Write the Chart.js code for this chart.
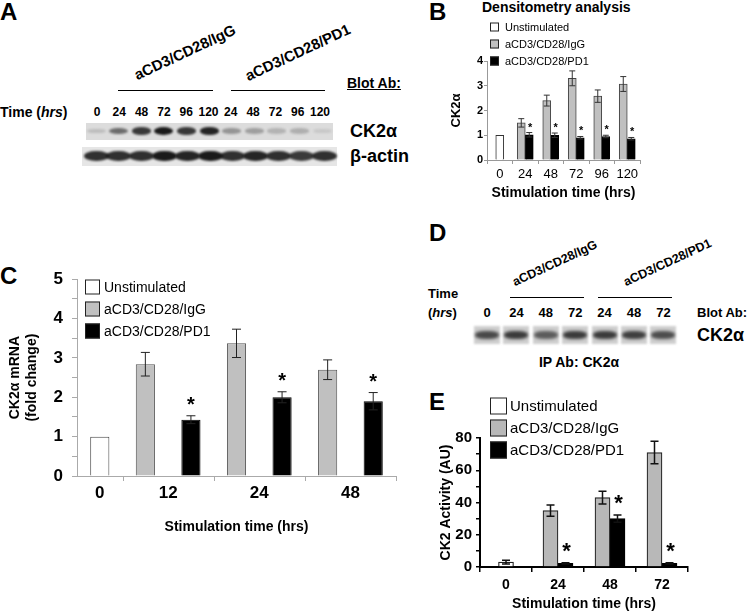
<!DOCTYPE html>
<html>
<head>
<meta charset="utf-8">
<script src="https://cdn.jsdelivr.net/npm/chart.js@4.4.1/dist/chart.umd.min.js"></script>
<style>
  body { margin: 0; background: #fff; }
  #fig { position: relative; width: 750px; height: 613px; overflow: hidden; font-family: Arial, "Liberation Sans", sans-serif; color: #000; }
  #fig canvas { position: absolute; }
  .t { position: absolute; font-weight: bold; white-space: nowrap; line-height: 1; }
  .letter { font-size: 24px; }
  .rot { transform-origin: 0 100%; transform: rotate(-25deg); }
  .rule { position: absolute; height: 0; border-top: 1.5px solid #000; }
  .strip { position: absolute; }
  .band { position: absolute; border-radius: 50%; filter: blur(1.2px); }
</style>
</head>
<body>
<div id="fig">
  <div class="t letter" style="left:0px;top:0px">A</div>
  <div class="t letter" style="left:429px;top:0px">B</div>
  <div class="t letter" style="left:0px;top:264px">C</div>
  <div class="t letter" style="left:429px;top:221px">D</div>
  <div class="t letter" style="left:429px;top:390px">E</div>

  <!-- panel A blot -->
  <div class="t rot" style="left:138px;top:67px;font-size:15px">aCD3/CD28/IgG</div>
  <div class="t rot" style="left:249px;top:68px;font-size:15px">aCD3/CD28/PD1</div>
  <div class="rule" style="left:118px;top:90px;width:95px"></div>
  <div class="rule" style="left:231px;top:90px;width:94px"></div>
  <div class="t" style="left:347px;top:76px;font-size:14px;text-decoration:underline">Blot Ab:</div>
  <div class="t" style="left:0px;top:105px;font-size:14px">Time (<i>hrs</i>)</div>
  <div id="laneA"></div>
  <div class="strip" id="stripCK2" style="left:86px;top:123px;width:247px;height:17px;background:#dcdcdc"></div>
  <div class="strip" id="stripActin" style="left:82px;top:147px;width:255px;height:19px;background:#e6e6e6"></div>
  <div class="t" style="left:350px;top:122px;font-size:18px">CK2α</div>
  <div class="t" style="left:350px;top:147px;font-size:18px">β-actin</div>

  <!-- panel B title -->
  <div class="t" style="left:482px;top:0px;font-size:14px">Densitometry analysis</div>

  <!-- panel D blot -->
  <div class="t rot" style="left:516px;top:276px;font-size:12.5px">aCD3/CD28/IgG</div>
  <div class="t rot" style="left:627px;top:276px;font-size:12.5px">aCD3/CD28/PD1</div>
  <div class="rule" style="left:510px;top:297px;width:74px"></div>
  <div class="rule" style="left:598px;top:297px;width:74px"></div>
  <div class="t" style="left:428px;top:287px;font-size:13px">Time</div>
  <div class="t" style="left:428px;top:306px;font-size:13px">(<i>hrs</i>)</div>
  <div id="laneD"></div>
  <div class="t" style="left:697px;top:306px;font-size:13px">Blot Ab:</div>
  <div id="stripD"></div>
  <div class="t" style="left:697px;top:326px;font-size:18px">CK2α</div>
  <div class="t" style="left:579px;top:355px;font-size:14px;transform:translateX(-50%)">IP Ab: CK2α</div>

  <canvas id="chartB" width="215" height="206" style="left:440px;top:0px"></canvas>
  <canvas id="chartC" width="410" height="280" style="left:0px;top:260px"></canvas>
  <canvas id="chartE" width="263" height="218" style="left:437px;top:395px"></canvas>
</div>
<script>
// ---- panel A blot (band darkness 0..1)
const aTimes = ['0', '24', '48', '72', '96', '120', '24', '48', '72', '96', '120'];
const aCK2 = [0.15, 0.55, 0.8, 0.95, 0.8, 0.9, 0.35, 0.3, 0.2, 0.22, 0.1];
const aActin = [0.85, 0.85, 0.85, 0.95, 0.9, 0.95, 0.85, 0.9, 0.85, 0.8, 0.85];

// ---- panel B densitometry
const bTimes = ['0', '24', '48', '72', '96', '120'];
const bUnstim = [1, null, null, null, null, null];
const bUnstimErr = [0, null, null, null, null, null];
const bIgG = [null, 1.5, 2.4, 3.3, 2.58, 3.07];
const bIgGErr = [null, 0.17, 0.22, 0.3, 0.25, 0.3];
const bPD1 = [null, 1.02, 1.0, 0.9, 0.95, 0.86];
const bPD1Err = [null, 0.09, 0.09, 0.05, 0.05, 0.05];
const bSig = [false, true, true, true, true, true];

// ---- panel C mRNA
const cTimes = ['0', '12', '24', '48'];
const cUnstim = [1, null, null, null, null, null, null];
const cUnstimErr = [0, null, null, null, null, null, null];
const cIgG = [null, 2.84, null, 3.37, null, 2.7, null];
const cIgGErr = [null, 0.3, null, 0.36, null, 0.25, null];
const cPD1 = [null, null, 1.43, null, 2.0, null, 1.9];
const cPD1Err = [null, null, 0.1, null, 0.14, null, 0.22];
const cSig = [false, false, true, false, true, false, true];

// ---- panel D blot
const dTimes = ['0', '24', '48', '72', '24', '48', '72'];
const dCK2 = [0.72, 0.8, 0.62, 0.8, 0.8, 0.78, 0.7];

// ---- panel E kinase activity
const eTimes = ['0', '24', '48', '72'];
const eUnstim = [3, null, null, null];
const eUnstimErr = [1.2, null, null, null];
const eIgG = [null, 35, 43, 71];
const eIgGErr = [null, 3.5, 4, 7];
const ePD1 = [null, 2.2, 30, 2.3];
const ePD1Err = [null, 0.4, 2.3, 0.4];
const eSig = [false, true, true, true];

const GRAY = '#c0c0c0';
const FONT = 'Arial, "Liberation Sans", sans-serif';

// ---------- blots
function addLanes(id, labels, x0, step, top, size) {
  const host = document.getElementById(id);
  labels.forEach((l, i) => {
    const d = document.createElement('div');
    d.className = 't';
    d.style.cssText = `left:${x0 + i * step}px;top:${top}px;font-size:${size}px;transform:translateX(-50%)`;
    d.textContent = l;
    host.appendChild(d);
  });
}
function addBands(id, vals, x0, step, cy, w, h) {
  const host = document.getElementById(id);
  const r = host.getBoundingClientRect();
  const fr = document.getElementById('fig').getBoundingClientRect();
  vals.forEach((v, i) => {
    const d = document.createElement('div');
    d.className = 'band';
    const hh = h * (0.55 + 0.45 * v);
    d.style.cssText = `left:${x0 + i * step - w / 2 - (r.left - fr.left)}px;top:${cy - hh / 2 - (r.top - fr.top)}px;width:${w}px;height:${hh}px;background:rgba(15,15,15,${v})`;
    host.appendChild(d);
  });
}
addLanes('laneA', aTimes, 97, 22.3, 106, 12);
addBands('stripCK2', aCK2, 96, 22.6, 131, 19, 8);
addBands('stripActin', aActin, 96, 22.8, 156, 25, 11);
addLanes('laneD', dTimes, 487, 29.4, 306, 13);
(function () {
  const host = document.getElementById('stripD');
  dCK2.forEach((v, i) => {
    const d = document.createElement('div');
    d.style.cssText = `position:absolute;left:${487 + i * 29.4 - 13}px;top:326px;width:26px;height:18px;filter:blur(1px);background:#cfcfcf`;
    const b = document.createElement('div');
    b.style.cssText = `position:absolute;left:1px;right:1px;top:5px;height:8px;border-radius:40%;filter:blur(1.2px);background:rgba(20,20,20,${v})`;
    d.appendChild(b);
    host.appendChild(d);
  });
})();

// ---------- chart plugins
const errorBars = {
  id: 'errorBars',
  afterDatasetsDraw(chart, args, o) {
    const ctx = chart.ctx, y = chart.scales.y;
    ctx.save();
    ctx.strokeStyle = o.color;
    ctx.lineWidth = o.width;
    chart.data.datasets.forEach((ds, di) => {
      if (!ds.errors) return;
      chart.getDatasetMeta(di).data.forEach((bar, i) => {
        const v = ds.data[i], e = ds.errors[i];
        if (v == null || !e) return;
        const x = bar.x, hi = y.getPixelForValue(v + e), lo = y.getPixelForValue(v - e);
        ctx.beginPath();
        ctx.moveTo(x, lo); ctx.lineTo(x, hi);
        ctx.moveTo(x - o.cap, hi); ctx.lineTo(x + o.cap, hi);
        ctx.moveTo(x - o.cap, lo); ctx.lineTo(x + o.cap, lo);
        ctx.stroke();
      });
    });
    ctx.restore();
  }
};

const stars = {
  id: 'stars',
  afterDatasetsDraw(chart, args, o) {
    const ctx = chart.ctx, y = chart.scales.y;
    ctx.save();
    ctx.font = o.font;
    ctx.fillStyle = '#000';
    ctx.textAlign = 'center';
    ctx.textBaseline = 'alphabetic';
    chart.data.datasets.forEach((ds, di) => {
      if (!ds.sig) return;
      chart.getDatasetMeta(di).data.forEach((bar, i) => {
        if (!ds.sig[i] || ds.data[i] == null) return;
        const top = ds.data[i] + (ds.errors ? ds.errors[i] || 0 : 0);
        ctx.fillText('*', bar.x + o.dx, y.getPixelForValue(top) - o.offset);
      });
    });
    ctx.restore();
  }
};

const boxLegend = {
  id: 'boxLegend',
  afterDraw(chart, args, o) {
    const ctx = chart.ctx;
    ctx.save();
    ctx.font = o.font;
    ctx.textBaseline = 'middle';
    chart.data.datasets.forEach((ds, i) => {
      const cy = o.y + i * o.row;
      ctx.fillStyle = ds.backgroundColor;
      ctx.fillRect(o.x, cy - o.box / 2, o.box, o.box);
      ctx.strokeStyle = '#222';
      ctx.lineWidth = 1;
      ctx.strokeRect(o.x + 0.5, cy - o.box / 2 + 0.5, o.box - 1, o.box - 1);
      ctx.fillStyle = '#000';
      ctx.fillText(ds.label, o.x + o.box + o.gap, cy + 1);
    });
    ctx.restore();
  }
};

// category slots that share one time label get one centred label and a tick after the group
const groupTicks = {
  id: 'groupTicks',
  afterDraw(chart, args, o) {
    const x = chart.scales.x, area = chart.chartArea, ctx = chart.ctx;
    const groups = [];
    chart.data.labels.forEach((l, i) => {
      const px = x.getPixelForValue(i);
      const g = groups[groups.length - 1];
      if (g && g.label === l) { g.end = i; g.sum += px; g.n++; }
      else groups.push({ label: l, end: i, sum: px, n: 1 });
    });
    const half = (x.getPixelForValue(1) - x.getPixelForValue(0)) / 2;
    ctx.save();
    ctx.font = o.font;
    ctx.fillStyle = '#000';
    ctx.textAlign = 'center';
    ctx.textBaseline = 'middle';
    ctx.strokeStyle = o.tickColor;
    ctx.lineWidth = 1;
    groups.forEach(g => {
      ctx.fillText(g.label, g.sum / g.n, area.bottom + o.labelOffset);
      const tx = Math.round(x.getPixelForValue(g.end) + half) + 0.5;
      ctx.beginPath();
      ctx.moveTo(tx, area.bottom);
      ctx.lineTo(tx, area.bottom + o.tickLen);
      ctx.stroke();
    });
    ctx.restore();
  }
};

Chart.defaults.font.family = FONT;
Chart.defaults.color = '#000';
Chart.defaults.plugins.legend.display = false;
Chart.defaults.plugins.tooltip.enabled = false;

// ---------- B
new Chart(document.getElementById('chartB'), {
  type: 'bar',
  data: {
    labels: bTimes,
    datasets: [
      { label: 'Unstimulated', data: bUnstim, errors: bUnstimErr, backgroundColor: '#ffffff', borderColor: '#333', borderWidth: 1 },
      { label: 'aCD3/CD28/IgG', data: bIgG, errors: bIgGErr, backgroundColor: GRAY, borderColor: '#444', borderWidth: 1 },
      { label: 'aCD3/CD28/PD1', data: bPD1, errors: bPD1Err, sig: bSig, backgroundColor: '#000000', borderColor: '#000', borderWidth: 1 },
    ],
  },
  options: {
    responsive: false,
    animation: false,
    devicePixelRatio: 1,
    layout: { padding: { left: 0, right: 15, top: 61, bottom: 0 } },
    datasets: { bar: { skipNull: true, barThickness: 8 } },
    scales: {
      x: {
        grid: { drawOnChartArea: false, tickLength: 4, color: '#999' },
        border: { color: '#999' },
        ticks: { font: { size: 13 }, padding: 3, autoSkip: false, minRotation: 0, maxRotation: 0 },
        title: { display: true, text: 'Stimulation time (hrs)', font: { size: 14, weight: 'bold' }, padding: { top: 0, bottom: 4 } },
        afterFit: s => { s.height = 46; },
      },
      y: {
        min: 0,
        max: 4,
        ticks: { stepSize: 1, font: { size: 11, weight: 'bold' }, padding: 1 },
        grid: { drawOnChartArea: false, tickLength: 3, color: '#999' },
        border: { color: '#999' },
        title: { display: true, text: 'CK2α', font: { size: 13, weight: 'bold' }, padding: { top: 9, bottom: 0 } },
        afterFit: s => { s.width = 47; },
      },
    },
    plugins: {
      errorBars: { cap: 3, width: 1, color: '#333' },
      stars: { font: 'bold 11px ' + FONT, offset: 2, dx: 1 },
      boxLegend: { x: 50, y: 27, row: 17, box: 9, gap: 6, font: '11px ' + FONT },
    },
  },
  plugins: [errorBars, stars, boxLegend],
});

// ---------- C
const cSlots = cTimes.flatMap((t, i) => (i === 0 ? [t] : [t, t]));
new Chart(document.getElementById('chartC'), {
  type: 'bar',
  data: {
    labels: cSlots,
    datasets: [
      { label: 'Unstimulated', data: cUnstim, errors: cUnstimErr, backgroundColor: '#ffffff', borderColor: '#444', borderWidth: 1 },
      { label: 'aCD3/CD28/IgG', data: cIgG, errors: cIgGErr, backgroundColor: GRAY, borderColor: '#555', borderWidth: 1 },
      { label: 'aCD3/CD28/PD1', data: cPD1, errors: cPD1Err, sig: cSig, backgroundColor: '#000000', borderColor: '#000', borderWidth: 1 },
    ],
  },
  options: {
    responsive: false,
    animation: false,
    devicePixelRatio: 1,
    layout: { padding: { left: 0, right: 14, top: 17, bottom: 0 } },
    datasets: { bar: { grouped: false, barPercentage: 0.42, categoryPercentage: 1 } },
    scales: {
      x: {
        ticks: { display: false },
        grid: { display: false },
        border: { color: '#aaa' },
        title: { display: true, text: 'Stimulation time (hrs)', font: { size: 14, weight: 'bold' }, padding: { top: 0, bottom: 4 } },
        afterFit: s => { s.height = 64; },
      },
      y: {
        min: 0,
        max: 5,
        ticks: {
          stepSize: 0.5,
          autoSkip: false,
          padding: 9,
          font: { size: 17, weight: 'bold' },
          callback: v => (Number.isInteger(v) ? v : ''),
        },
        grid: { drawOnChartArea: false, tickLength: 5, color: '#aaa' },
        border: { color: '#aaa' },
        title: { display: true, text: ['CK2α mRNA', '(fold change)'], font: { size: 14, weight: 'bold' }, padding: { top: 7, bottom: 0 } },
        afterFit: s => { s.width = 77; },
      },
    },
    plugins: {
      errorBars: { cap: 4.5, width: 1, color: '#222' },
      stars: { font: 'bold 20px ' + FONT, offset: 5, dx: 0 },
      boxLegend: { x: 85, y: 27, row: 22, box: 15, gap: 4, font: '14px ' + FONT },
      groupTicks: { font: 'bold 17px ' + FONT, labelOffset: 17, tickLen: 5, tickColor: '#aaa' },
    },
  },
  plugins: [errorBars, stars, boxLegend, groupTicks],
});

// ---------- E
new Chart(document.getElementById('chartE'), {
  type: 'bar',
  data: {
    labels: eTimes,
    datasets: [
      { label: 'Unstimulated', data: eUnstim, errors: eUnstimErr, backgroundColor: '#ffffff', borderColor: '#222', borderWidth: 1.2 },
      { label: 'aCD3/CD28/IgG', data: eIgG, errors: eIgGErr, backgroundColor: '#b8b8b8', borderColor: '#222', borderWidth: 1.2 },
      { label: 'aCD3/CD28/PD1', data: ePD1, errors: ePD1Err, sig: eSig, backgroundColor: '#000000', borderColor: '#000', borderWidth: 1 },
    ],
  },
  options: {
    responsive: false,
    animation: false,
    devicePixelRatio: 1,
    layout: { padding: { left: 0, right: 12, top: 43, bottom: 0 } },
    datasets: { bar: { skipNull: true, barThickness: 15 } },
    scales: {
      x: {
        grid: { drawOnChartArea: false, tickLength: 5, color: '#000', lineWidth: 1.5 },
        border: { color: '#000', width: 2 },
        ticks: { font: { size: 14, weight: 'bold' }, padding: 5, maxRotation: 0 },
        title: { display: true, text: 'Stimulation time (hrs)', font: { size: 14, weight: 'bold' }, padding: { top: 0, bottom: 0 } },
        afterFit: s => { s.height = 46; },
      },
      y: {
        min: 0,
        max: 80,
        ticks: {
          stepSize: 10,
          autoSkip: false,
          padding: 4,
          font: { size: 15, weight: 'bold' },
          callback: v => (v % 20 === 0 ? v : ''),
        },
        grid: { drawOnChartArea: false, tickLength: 4, color: '#000', lineWidth: 1.5 },
        border: { color: '#000', width: 2 },
        title: { display: true, text: 'CK2 Activity (AU)', font: { size: 14, weight: 'bold' }, padding: { top: 1, bottom: 0 } },
        afterFit: s => { s.width = 43; },
      },
    },
    plugins: {
      errorBars: { cap: 4, width: 1.5, color: '#111' },
      stars: { font: 'bold 22px ' + FONT, offset: 5, dx: 1 },
      boxLegend: { x: 53, y: 11, row: 22, box: 17, gap: 3, font: '15px ' + FONT },
    },
  },
  plugins: [errorBars, stars, boxLegend],
});
</script>
</body>
</html>
